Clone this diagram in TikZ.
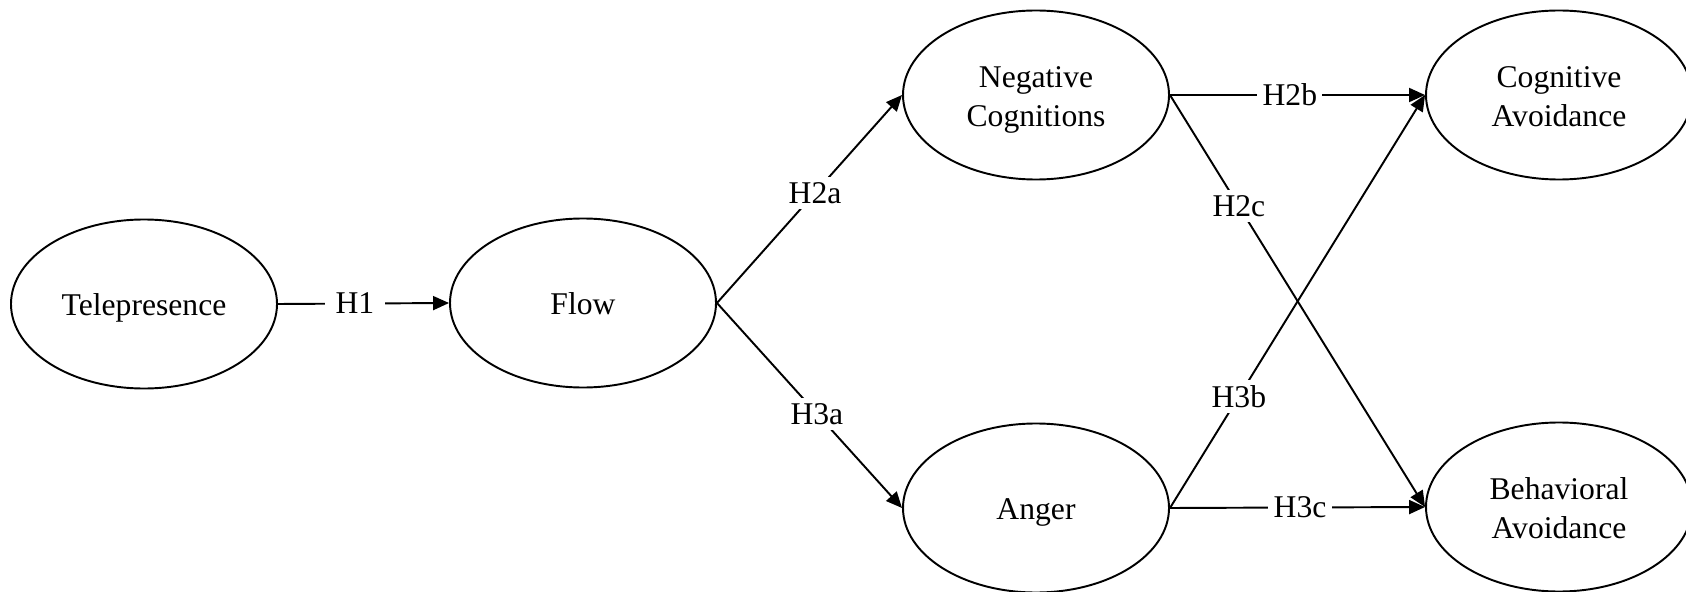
\documentclass[tikz,border=0pt]{standalone}
\usepackage{fontspec}
\setmainfont{Liberation Serif}
\usetikzlibrary{shapes.geometric}
\usetikzlibrary{arrows.meta}

\tikzset{
 construct/.style={draw, ellipse, line width=1.1pt, minimum width=5.32cm, minimum height=3.38cm, inner sep=0pt, align=center, font=\fontsize{18}{22}\selectfont, text height=13pt, text depth=0pt},
 twoline/.style={text height=36pt},
 hyp/.style={line width=1.1pt, -{Triangle[length=0.32cm,width=0.28cm]}},
 hlabel/.style={fill=white, inner sep=3pt, font=\fontsize{18}{22}\selectfont}
}

\begin{document}
\begin{tikzpicture}
 \useasboundingbox (0,0) rectangle (33.72,-11.84);
 % constructs
 \node[construct] (tele) at (2.88,-6.08) {Telepresence};
 \node[construct] (flow) at (11.66,-6.06) {Flow};
 \node[construct,twoline] (negcog) at (20.72,-1.90) {Negative\\Cognitions};
 \node[construct] (anger) at (20.72,-10.16) {Anger};
 \node[construct,twoline] (cogav) at (31.18,-1.90) {Cognitive\\Avoidance};
 \node[construct,twoline] (behav) at (31.18,-10.14) {Behavioral\\Avoidance};
 % hypotheses
 \draw[hyp] (tele.east) -- node[hlabel,inner sep=6pt,pos=0.45]{H1} (flow.west);
 \draw[hyp] (flow.east) -- node[hlabel,pos=0.53]{H2a} (negcog.west);
 \draw[hyp] (flow.east) -- node[hlabel,pos=0.54]{H3a} (anger.west);
 \draw[hyp] (negcog.east) -- node[hlabel,pos=0.47]{H2b} (cogav.west);
 \draw[hyp] (negcog.east) -- node[hlabel,pos=0.27]{H2c} (behav.west);
 \draw[hyp] (anger.east) -- node[hlabel,pos=0.27]{H3b} (cogav.west);
 \draw[hyp] (anger.east) -- node[hlabel,pos=0.51]{H3c} (behav.west);
\end{tikzpicture}
\end{document}
